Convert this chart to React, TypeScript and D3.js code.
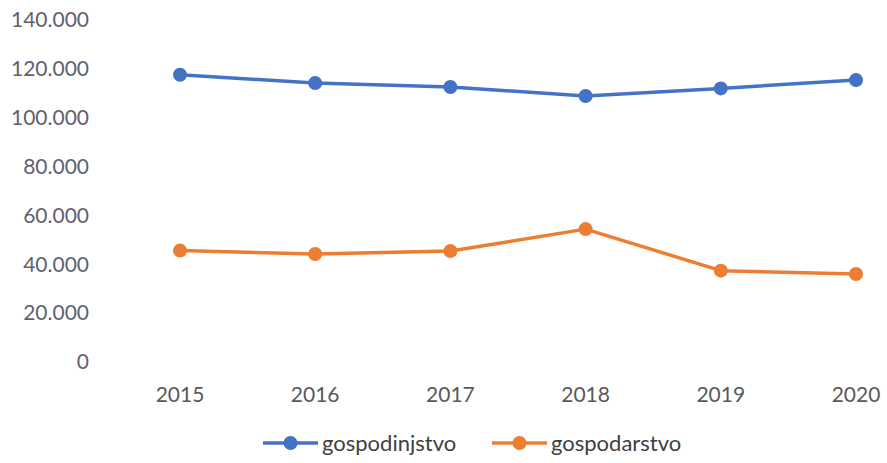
import React from "react";
import * as d3 from "d3";

const years = ["2015", "2016", "2017", "2018", "2019", "2020"];
const gospodinjstvo = [117600, 114200, 112600, 108900, 112000, 115400];
const gospodarstvo = [45600, 44200, 45400, 54400, 37400, 36000];
const yTicks = [0, 20000, 40000, 60000, 80000, 100000, 120000, 140000];

const W = 887, H = 463;
const FONT = "Lato, 'Open Sans', sans-serif";

export default function App() {
  const x = d3.scalePoint<string>().domain(years).range([180, 856]);
  const y = d3.scaleLinear().domain([0, 140000]).range([362, 20]);
  const fmt = (v: number) => (v === 0 ? "0" : d3.format(",")(v).replace(/,/g, "."));
  const line = d3.line<number>().x((_, i) => x(years[i])!).y((d) => y(d));
  const series = [
    { name: "gospodinjstvo", data: gospodinjstvo, color: "#4472C4", lx: 263 },
    { name: "gospodarstvo", data: gospodarstvo, color: "#ED7D31", lx: 492 },
  ];
  return (
    <svg width={W} height={H} style={{ position: "absolute", left: 0, top: 0, background: "#fff" }}>
      {yTicks.map((t) => (
        <text key={t} x={89} y={y(t)} dy="0.35em" textAnchor="end" fontFamily={FONT} fontSize={21} fill="#5f6170">
          {fmt(t)}
        </text>
      ))}
      {years.map((yr) => (
        <text key={yr} x={x(yr)} y={395} dy="0.35em" textAnchor="middle" fontFamily={FONT} fontSize={21} fill="#595959">
          {yr}
        </text>
      ))}
      {series.map((s) => (
        <g key={s.name}>
          <path d={line(s.data)!} fill="none" stroke={s.color} strokeWidth={3.5} strokeLinejoin="round" />
          {s.data.map((v, i) => (
            <circle key={i} cx={x(years[i])} cy={y(v)} r={7} fill={s.color} />
          ))}
        </g>
      ))}
      {series.map((s) => (
        <g key={s.name + "-lg"}>
          <line x1={s.lx} x2={s.lx + 55} y1={443} y2={443} stroke={s.color} strokeWidth={3.5} />
          <circle cx={s.lx + 27.5} cy={443} r={7} fill={s.color} />
          <text x={s.lx + 59} y={443} dy="0.35em" fontFamily={FONT} fontSize={22} fill="#404040">
            {s.name}
          </text>
        </g>
      ))}
    </svg>
  );
}
